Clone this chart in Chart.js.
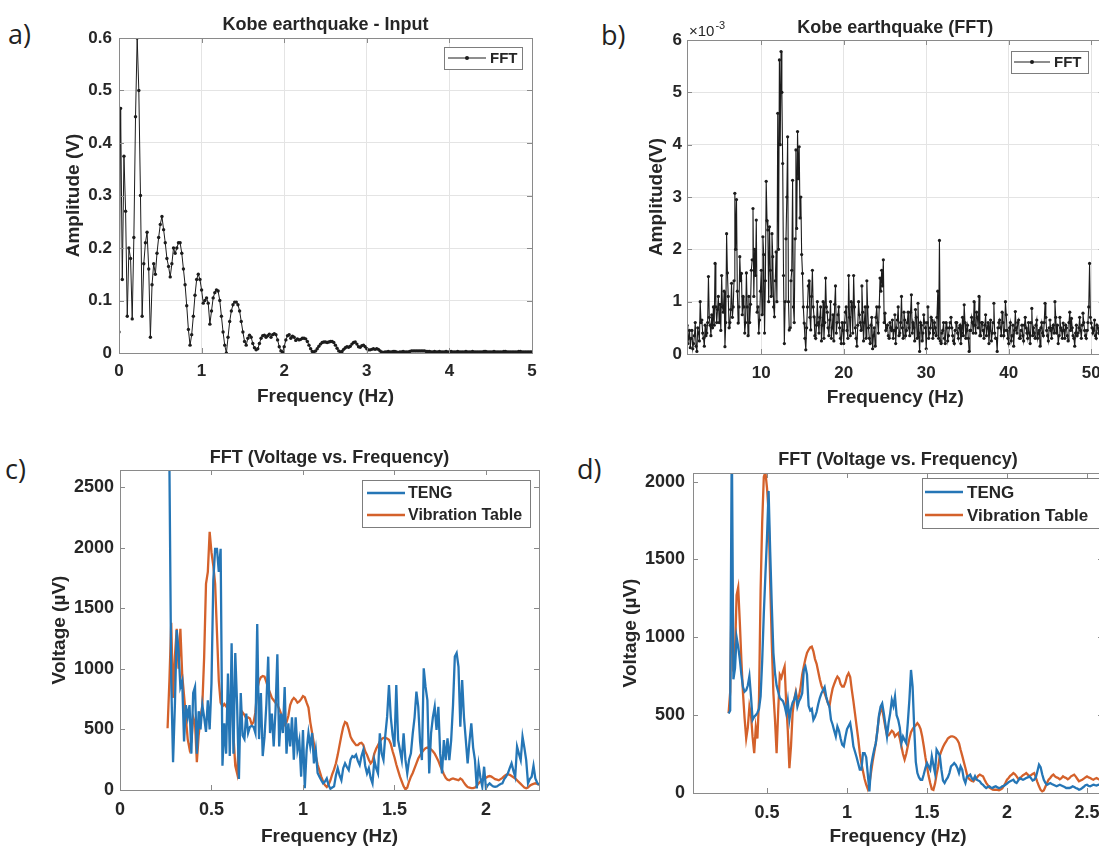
<!DOCTYPE html>
<html>
<head>
<meta charset="utf-8">
<script src="https://cdn.jsdelivr.net/npm/chart.js@4.4.1/dist/chart.umd.min.js"></script>
<style>
  html, body { margin: 0; padding: 0; background: #fff; width: 1099px; height: 847px; overflow: hidden; }
  canvas { position: absolute; }
  .tag { position: absolute; font-family: "Open Sans", "Liberation Sans", sans-serif; font-size: 27px; color: #222; line-height: 1; }
</style>
</head>
<body>
<div class="tag" style="left:8px;top:20px">a)</div>
<div class="tag" style="left:601px;top:21px">b)</div>
<div class="tag" style="left:5px;top:455px">c)</div>
<div class="tag" style="left:577px;top:455px">d)</div>
<canvas id="panelA" width="550" height="420" style="left:0;top:0"></canvas>
<canvas id="panelB" width="560" height="420" style="left:550px;top:0"></canvas>
<canvas id="panelC" width="550" height="430" style="left:0;top:425px"></canvas>
<canvas id="panelD" width="560" height="430" style="left:550px;top:425px"></canvas>
<script>
// a) Kobe input spectrum, bins every 0.02 Hz from 0 Hz (V)
const inputFreqStart = 0, inputFreqStep = 0.02;
const inputAmp = [
  0.04, 0.466, 0.14, 0.375, 0.27, 0.07, 0.2, 0.18, 0.065, 0.22,
  0.45, 0.6, 0.5, 0.3, 0.07, 0.17, 0.21, 0.23, 0.16, 0.03,
  0.13, 0.17, 0.15, 0.19, 0.22, 0.245, 0.26, 0.235, 0.21, 0.18,
  0.165, 0.145, 0.17, 0.2, 0.19, 0.2, 0.21, 0.21, 0.19, 0.16,
  0.13, 0.09, 0.045, 0.015, 0.035, 0.07, 0.11, 0.14, 0.15, 0.14,
  0.12, 0.095, 0.1, 0.105, 0.095, 0.055, 0.08, 0.105, 0.115, 0.12,
  0.118, 0.1, 0.07, 0.04, 0.015, 0.0, 0.03, 0.06, 0.08, 0.092,
  0.097, 0.097, 0.092, 0.08, 0.06, 0.04, 0.022, 0.015, 0.028, 0.034,
  0.03, 0.018, 0.01, 0.006, 0.008, 0.018, 0.028, 0.033, 0.034, 0.03,
  0.033, 0.036, 0.03, 0.035, 0.037, 0.035, 0.025, 0.012, 0.004, 0.002,
  0.012, 0.025, 0.033, 0.035, 0.028, 0.032, 0.03, 0.024, 0.027, 0.025,
  0.026, 0.028, 0.028, 0.027, 0.022, 0.015, 0.008, 0.003, 0.002, 0.004,
  0.008, 0.013, 0.017, 0.02, 0.021, 0.021, 0.02, 0.021, 0.022, 0.022,
  0.02, 0.015, 0.009, 0.004, 0.002, 0.003, 0.007, 0.01, 0.012, 0.011,
  0.013, 0.017, 0.02, 0.021, 0.017, 0.012, 0.011, 0.014, 0.015, 0.012,
  0.008, 0.006, 0.006, 0.007, 0.008, 0.007, 0.008, 0.007, 0.004, 0.002,
  0.001, 0.002, 0.002, 0.003, 0.002, 0.002, 0.003, 0.003, 0.002, 0.001,
  0.002, 0.002, 0.003, 0.002, 0.002, 0.002, 0.003, 0.004, 0.004, 0.004,
  0.004, 0.004, 0.004, 0.004, 0.004, 0.004, 0.003, 0.003, 0.003, 0.002,
  0.002, 0.003, 0.002, 0.002, 0.003, 0.002, 0.002, 0.002, 0.003, 0.002,
  0.002, 0.003, 0.002, 0.002, 0.002, 0.003, 0.002, 0.002, 0.002, 0.002,
  0.003, 0.002, 0.002, 0.002, 0.003, 0.002, 0.002, 0.002, 0.002, 0.002,
  0.002, 0.003, 0.003, 0.002, 0.002, 0.002, 0.002, 0.003, 0.002, 0.002,
  0.002, 0.002, 0.002, 0.003, 0.003, 0.002, 0.002, 0.002, 0.002, 0.002,
  0.002, 0.002, 0.003, 0.003, 0.002, 0.002, 0.002, 0.002, 0.002, 0.002,
  0.002
];
const inputFreqTicks = [0, 1, 2, 3, 4, 5];
const inputAmpTicks = [0, 0.1, 0.2, 0.3, 0.4, 0.5, 0.6];

// b) Kobe FFT in units of 1e-3 V: bins at 1.0, 1.2, ... Hz and the bins halfway between
const fftFreqStart = 1, fftFreqStep = 0.2;
const fftAmp = [
  0.55, 0.3, 0.12, 0.45, 0.2,   0.6, 0.05, 0.4, 1.0, 0.65,
  0.3, 0.55, 0.4, 1.48, 0.55,   0.75, 0.9, 1.73, 0.6, 1.1,
  0.95, 1.5, 0.8, 0.14, 2.3,    1.1, 0.6, 1.35, 0.9, 3.07,
  2.95, 0.59, 1.86, 1.54, 1.1,  0.4, 1.55, 0.35, 0.6, 1.6,
  2.78, 2.0, 2.56, 0.9, 0.65,   1.6, 2.24, 0.4, 3.3, 2.37,
  2.43, 1.1, 1.86, 0.71, 1.95,  4.6, 5.62, 5.78, 3.64, 0.2,
  2.2, 4.15, 0.46, 1.4, 3.32,   0.6, 3.9, 4.25, 3.96, 3.0,
  1.54, 0.59, 0.08, 0.9, 1.4,   0.46, 1.6, 0.71, 0.3, 1.0,
  0.4, 0.9, 0.55, 0.3, 1.45,    0.8, 0.35, 1.0, 0.5, 0.25,
  1.3, 0.6, 0.9, 0.3, 0.6,      0.2, 0.8, 0.45, 1.5, 0.35,
  0.9, 1.5, 0.5, 0.15, 1.0,     0.6, 1.3, 0.25, 0.9, 1.4,
  0.5, 0.2, 0.7, 0.35, 0.15,    0.9, 0.4, 1.45, 1.6, 1.8,
  0.78, 0.5, 0.35, 0.6, 0.45,   0.3, 0.75, 0.5, 0.9, 0.4,
  1.1, 0.3, 0.65, 0.45, 0.8,    0.35, 1.13, 0.6, 0.25, 0.7,
  0.97, 0.05, 0.55, 0.4, 0.6,   0.1, 0.9, 0.4, 0.7, 0.3,
  0.6, 0.35, 1.2, 2.17, 0.2,    0.45, 0.3, 0.6, 0.25, 0.5,
  0.7, 0.35, 0.2, 0.6, 0.4,     0.5, 0.2, 0.7, 0.94, 0.3,
  0.55, 0.05, 0.45, 0.6, 1.0,   0.4, 0.7, 1.1, 0.35, 0.6,
  0.3, 0.75, 0.5, 0.2, 0.65,    0.4, 0.97, 0.3, 0.05, 0.6,
  0.5, 0.8, 0.35, 1.0, 0.45,    0.2, 0.6, 0.35, 0.15, 0.81,
  0.4, 0.65, 0.3, 0.55, 0.25,   0.7, 0.4, 0.6, 0.2, 0.87,
  0.5, 0.3, 0.65, 0.4, 0.15,    0.6, 0.35, 0.97, 0.45, 0.25,
  0.65, 0.3, 0.55, 1.0, 0.4,    0.2, 0.7, 0.45, 0.59, 0.3,
  0.5, 0.25, 0.8, 0.68, 0.35,   0.15, 0.55, 0.4, 0.7, 0.3,
  0.78, 0.45, 0.3, 0.6, 1.73,   0.59, 0.4, 0.65, 0.3, 0.5,
  0.45
];
// values at 1.1, 1.3, ... 50.9 Hz
const fftAmpMid = [
  0.2, 0.45, 0.3, 0.1, 0.35, 0.15, 0.5, 0.25, 0.6, 0.4,
  0.15, 0.35, 0.6, 0.7, 0.35, 0.5, 0.55, 0.9, 0.85, 0.6,
  0.45, 0.9, 1.2, 0.6, 1.55, 0.5, 0.85, 0.7, 1.4, 2.0,
  1.2, 0.9, 1.4, 0.75, 0.9, 0.6, 0.9, 1.1, 0.95, 1.8,
  1.1, 1.5, 0.8, 0.4, 1.2, 0.75, 1.9, 1.4, 2.55, 1.0,
  1.6, 2.3, 0.9, 1.4, 1.0, 2.0, 4.0, 5.0, 1.5, 1.0,
  3.0, 1.0, 0.5, 1.6, 0.9, 2.2, 2.4, 3.35, 2.6, 1.9,
  0.9, 0.3, 0.5, 1.3, 0.7, 1.1, 0.9, 0.35, 0.55, 0.6,
  0.7, 0.25, 1.0, 0.6, 0.9, 0.5, 0.65, 0.3, 0.75, 0.95,
  0.4, 0.75, 0.5, 0.2, 0.45, 0.6, 0.9, 0.3, 0.7, 1.0,
  0.4, 0.9, 0.3, 0.55, 0.75, 0.45, 0.8, 0.6, 0.3, 0.9,
  0.3, 0.55, 0.1, 0.5, 0.7, 0.6, 0.9, 1.2, 1.3, 0.6,
  0.45, 0.55, 0.3, 0.5, 0.65, 0.45, 0.2, 0.65, 0.35, 0.6,
  0.5, 0.8, 0.35, 0.6, 0.5, 0.8, 0.4, 0.5, 0.85, 0.3,
  0.4, 0.6, 0.25, 0.75, 0.5, 0.6, 0.3, 0.5, 0.65, 0.4,
  0.5, 0.7, 0.3, 0.25, 0.4, 0.6, 0.2, 0.5, 0.35, 0.6,
  0.5, 0.25, 0.45, 0.6, 0.3, 0.55, 0.4, 0.35, 0.6, 0.45,
  0.3, 0.45, 0.7, 0.4, 0.55, 0.8, 0.5, 0.35, 0.6, 0.45,
  0.55, 0.35, 0.6, 0.45, 0.25, 0.6, 0.4, 0.3, 0.5, 0.65,
  0.35, 0.6, 0.45, 0.75, 0.3, 0.5, 0.25, 0.55, 0.45, 0.5,
  0.6, 0.3, 0.45, 0.35, 0.55, 0.5, 0.3, 0.4, 0.6, 0.35,
  0.4, 0.55, 0.3, 0.45, 0.5, 0.4, 0.6, 0.7, 0.35, 0.5,
  0.45, 0.5, 0.4, 0.7, 0.55, 0.35, 0.5, 0.3, 0.45, 0.55,
  0.35, 0.6, 0.45, 0.5, 0.3, 0.4, 0.35, 0.5, 0.45, 0.55,
  0.6, 0.35, 0.45, 0.9, 0.7, 0.5, 0.45, 0.35, 0.55, 0.4
];
const fftFreqTicks = [10, 20, 30, 40, 50];
const fftAmpTicks = [0, 1, 2, 3, 4, 5, 6];

// c) TENG vs vibration table, bins every 0.01 Hz from 0.26 Hz (µV)
const freqStartC = 0.26, freqStepC = 0.01;
const tengC = [
  2800, 2700, 900, 230, 700, 1320, 1150, 850, 900, 400,
  700, 600, 700, 300, 800, 850, 300, 650, 500, 700,
  600, 480, 740, 500, 880, 1730, 1990, 1990, 1800, 1990,
  200, 550, 300, 960, 280, 1210, 300, 1130, 700, 90,
  800, 450, 420, 630, 470, 520, 530, 520, 470, 1370,
  420, 800, 280, 440, 710, 1100, 470, 630, 360, 660,
  1120, 360, 630, 470, 850, 300, 550, 360, 600, 250,
  600, 330, 410, 110, 495, 14, 330, 470, 360, 470,
  220, 330, 140, 110, 80, 55, 70, 95, 40, 10,
  20, 30, 120, 180, 120, 80, 180, 220, 190, 165,
  250, 280, 270, 290, 240, 206, 280, 330, 200, 137,
  180, 100, 55, 247, 180, 137, 467, 300, 247, 450,
  605, 866, 600, 450, 357, 866, 412, 330, 247, 467,
  250, 137, 250, 302, 467, 600, 811, 687, 400, 247,
  1004, 850, 742, 137, 467, 600, 687, 495, 687, 300,
  137, 412, 247, 426, 247, 412, 700, 1100, 1130, 1017,
  522, 907, 600, 412, 220, 400, 550, 350, 247, 14,
  206, 100, 27, 192, 14, 40, 55, 40, 30, 27,
  30, 40, 50, 55, 90, 110, 137, 180, 220, 160,
  110, 357, 300, 247, 440, 350, 247, 55, 90, 110,
  200, 96, 60, 41
];
const tableC = [
  510, 900, 1380, 760, 1100, 1330, 1000, 1330, 950, 780,
  600, 420, 340, 400, 600, 550, 230, 450, 600, 700,
  1100, 1700, 1800, 2130, 1960, 1850, 1700, 1300, 900, 720,
  690, 710, 690, 730, 770, 800, 450, 200, 137, 400,
  600, 640, 620, 590, 600, 590, 540, 560, 640, 830,
  900, 930, 940, 935, 890, 840, 800, 760, 740, 720,
  700, 670, 630, 590, 540, 560, 610, 700, 740, 760,
  745, 720, 730, 750, 775, 765, 720, 680, 560, 470,
  380, 280, 210, 160, 110, 70, 40, 25, 45, 80,
  130, 170, 220, 290, 370, 450, 520, 560, 550, 500,
  440, 410, 390, 370, 370, 385, 390, 370, 320, 290,
  250, 220, 240, 300, 340, 370, 400, 420, 430, 430,
  425, 415, 380, 320, 270, 210, 160, 110, 70, 30,
  5, 20, 70, 110, 140, 180, 220, 260, 285, 310,
  330, 345, 350, 345, 335, 320, 300, 270, 240, 200,
  165, 130, 100, 85, 80, 90, 95, 90, 85, 80,
  95, 85, 60, 40, 25, 20, 15, 15, 20, 35,
  55, 70, 80, 90, 100, 110, 115, 110, 100, 90,
  85, 80, 90, 100, 115, 125, 130, 125, 115, 105,
  95, 80, 65, 50, 35, 20, 15, 20, 35, 45,
  50, 55, 50, 45
];
const freqTicksC = [0, 0.5, 1, 1.5, 2];
const voltTicksC = [0, 500, 1000, 1500, 2000, 2500];

// d) smoothed comparison, bins every 0.01 Hz from 0.26 Hz (µV)
const freqStartD = 0.26, freqStepD = 0.01;
const tengD = [
  510, 530, 2300, 730, 800, 1000, 940, 860, 760, 680,
  650, 660, 690, 750, 620, 470, 490, 500, 515, 540,
  620, 850, 1150, 1400, 1640, 1940, 1550, 1200, 900, 770,
  690, 650, 610, 600, 590, 560, 513, 590, 470, 540,
  580, 600, 640, 555, 590, 610, 640, 790, 812, 760,
  560, 530, 540, 470, 490, 520, 570, 610, 640, 660,
  680, 620, 580, 555, 470, 440, 400, 363, 427, 400,
  350, 310, 300, 360, 410, 430, 449, 385, 300, 265,
  230, 190, 150, 150, 256, 256, 230, 120, 10, 171,
  230, 280, 320, 400, 500, 555, 575, 513, 440, 363,
  450, 513, 598, 560, 620, 500, 470, 420, 320, 363,
  340, 320, 450, 600, 790, 684, 420, 200, 128, 100,
  85, 85, 120, 160, 192, 170, 150, 235, 180, 128,
  278, 260, 240, 150, 80, 64, 85, 100, 128, 171,
  180, 192, 180, 160, 128, 171, 150, 90, 64, 107,
  110, 118, 95, 85, 107, 85, 80, 75, 60, 53,
  40, 32, 38, 43, 35, 32, 40, 43, 36, 32,
  35, 43, 45, 53, 60, 70, 75, 80, 85, 70,
  64, 80, 96, 90, 85, 90, 96, 100, 107, 95,
  80, 85, 100, 140, 182, 165, 120, 85, 65, 53,
  58, 64, 58, 53, 48, 43, 48, 53, 48, 43,
  38, 32, 32, 32, 36, 43, 38, 32, 28, 21,
  25, 32, 40, 50, 53, 45, 43, 48, 53, 50,
  48, 53, 55, 50, 48
];
const tableD = [
  513, 650, 1380, 780, 900, 1270, 1320, 1100, 850, 640,
  480, 350, 420, 555, 500, 360, 256, 420, 350, 600,
  1300, 1740, 2030, 2060, 1960, 1800, 1350, 960, 640, 470,
  256, 530, 760, 740, 780, 812, 580, 400, 160, 300,
  513, 600, 650, 600, 620, 680, 760, 812, 860, 900,
  920, 935, 940, 910, 860, 830, 780, 730, 690, 662,
  641, 610, 580, 555, 620, 670, 700, 727, 748, 735,
  700, 684, 684, 710, 750, 769, 745, 662, 590, 510,
  430, 350, 256, 190, 140, 90, 53, 25, 60, 130,
  200, 260, 320, 400, 490, 530, 540, 480, 420, 370,
  370, 385, 400, 390, 363, 375, 385, 350, 300, 250,
  214, 250, 300, 350, 390, 410, 425, 435, 449, 435,
  410, 363, 300, 230, 170, 110, 64, 25, 20, 60,
  120, 170, 240, 270, 295, 315, 331, 350, 358, 363,
  363, 360, 353, 340, 320, 278, 240, 200, 160, 118,
  95, 85, 78, 75, 90, 96, 110, 118, 112, 107,
  85, 65, 50, 35, 28, 22, 21, 21, 20, 18,
  22, 30, 45, 64, 85, 96, 110, 118, 128, 120,
  107, 92, 90, 105, 115, 120, 128, 118, 107, 115,
  122, 128, 100, 70, 43, 20, 11, 16, 40, 64,
  85, 96, 110, 118, 107, 100, 96, 88, 95, 107,
  100, 96, 88, 95, 107, 112, 118, 105, 90, 75,
  80, 85, 92, 100, 107, 100, 96, 90, 85, 92,
  96, 90, 85, 80, 75
];
const freqTicksD = [0.5, 1, 1.5, 2, 2.5];
const voltTicksD = [0, 500, 1000, 1500, 2000];

const FONT = '"Liberation Sans", Arial, Helvetica, sans-serif';
const INK = '#262626';
const FRAME = '#8a8a8a';
const GRID = '#e4e4e4';
const TENG_BLUE = '#2576b6';
const TABLE_ORANGE = '#d4612b';
const FFT_BLACK = '#1c1c1c';

function binned(start, step, values) {
  return values.map((v, i) => ({ x: +(start + i * step).toFixed(4), y: v }));
}

// merge the main bins with the half-step bins between them
function withMidBins(start, step, values, mids) {
  const pts = [];
  values.forEach((v, i) => {
    const f = start + i * step;
    pts.push({ x: +f.toFixed(4), y: v });
    if (i < mids.length) pts.push({ x: +(f + step / 2).toFixed(4), y: mids[i] });
  });
  return pts;
}

function tickText(v) {
  return String(+Number(v).toFixed(4));
}

// box, inward tick marks and a MATLAB-like legend drawn over the plot
function axesDecor(spec) {
  return {
    id: 'axesDecor',
    afterDatasetsDraw(chart) {
      const { ctx, chartArea: a, scales } = chart;
      ctx.save();
      ctx.strokeStyle = FRAME;
      ctx.lineWidth = 1;
      ctx.beginPath();
      scales.x.ticks.forEach(t => {
        const px = Math.round(scales.x.getPixelForValue(t.value)) + 0.5;
        ctx.moveTo(px, a.bottom); ctx.lineTo(px, a.bottom - 5);
        ctx.moveTo(px, a.top); ctx.lineTo(px, a.top + 5);
      });
      scales.y.ticks.forEach(t => {
        const py = Math.round(scales.y.getPixelForValue(t.value)) + 0.5;
        ctx.moveTo(a.left, py); ctx.lineTo(a.left + 5, py);
        ctx.moveTo(a.right, py); ctx.lineTo(a.right - 5, py);
      });
      ctx.stroke();
      ctx.strokeRect(Math.round(a.left) + 0.5, Math.round(a.top) + 0.5,
        Math.round(a.right - a.left), Math.round(a.bottom - a.top));

      const lg = spec.legend;
      ctx.fillStyle = '#fff';
      ctx.fillRect(lg.x, lg.y, lg.w, lg.h);
      ctx.strokeStyle = '#7d7d7d';
      ctx.strokeRect(lg.x + 0.5, lg.y + 0.5, lg.w, lg.h);
      ctx.font = `bold ${lg.size}px ${FONT}`;
      ctx.textBaseline = 'middle';
      ctx.textAlign = 'left';
      chart.data.datasets.forEach((ds, i) => {
        const y = lg.rows[i];
        ctx.strokeStyle = ds.borderColor;
        ctx.lineWidth = ds.borderWidth;
        ctx.beginPath();
        ctx.moveTo(lg.x0, y); ctx.lineTo(lg.x1, y);
        ctx.stroke();
        if (ds.pointRadius > 0) {
          ctx.fillStyle = ds.borderColor;
          ctx.beginPath();
          ctx.arc((lg.x0 + lg.x1) / 2, y, 2, 0, Math.PI * 2);
          ctx.fill();
        }
        ctx.fillStyle = INK;
        ctx.fillText(ds.label, lg.textX, y + 1);
      });

      if (spec.exponent) {
        const e = spec.exponent;
        ctx.fillStyle = INK;
        ctx.font = `15px ${FONT}`;
        ctx.textBaseline = 'alphabetic';
        ctx.fillText('\u00d710', e.x, e.y);
        const w = ctx.measureText('\u00d710').width;
        ctx.font = `11px ${FONT}`;
        ctx.fillText('-3', e.x + w + 1, e.y - 7);
      }
      ctx.restore();
    }
  };
}

function makePanel(id, s) {
  const tLH = s.titleSize * 1.2;
  const aLH = s.axisSize * 1.2;
  const titleTop = s.titleY - tLH / 2;
  const tickFont = { family: FONT, size: s.tickSize, weight: 'bold' };
  const axisFont = { family: FONT, size: s.axisSize, weight: 'bold', lineHeight: 1.2 };
  return new Chart(document.getElementById(id), {
    type: 'line',
    data: { datasets: s.datasets },
    options: {
      responsive: false,
      animation: false,
      events: [],
      layout: { padding: { left: 0, top: 0, right: s.W - s.R, bottom: 0 } },
      plugins: {
        legend: { display: false },
        tooltip: { enabled: false },
        title: {
          display: true,
          fullSize: false,
          text: s.title,
          color: INK,
          font: { family: FONT, size: s.titleSize, weight: 'bold', lineHeight: 1.2 },
          padding: { top: titleTop, bottom: s.T - titleTop - tLH }
        }
      },
      scales: {
        x: {
          type: 'linear',
          min: s.xMin, max: s.xMax,
          grid: { display: s.grid, color: GRID, drawTicks: false },
          border: { display: false },
          ticks: {
            autoSkip: false, maxRotation: 0,
            padding: s.xPad, color: INK, font: tickFont, callback: tickText
          },
          afterBuildTicks(scale) { scale.ticks = s.xTicks.map(v => ({ value: v })); },
          title: {
            display: true, text: s.xTitle, color: INK, font: axisFont,
            padding: { top: 0, bottom: s.H - s.xTitleY - aLH / 2 }
          },
          afterFit(scale) { scale.height = s.H - s.B; }
        },
        y: {
          type: 'linear',
          min: 0, max: s.yMax,
          grid: { display: s.grid, color: GRID, drawTicks: false },
          border: { display: false },
          ticks: {
            autoSkip: false,
            padding: s.yPad, color: INK, font: tickFont, callback: tickText
          },
          afterBuildTicks(scale) { scale.ticks = s.yTicks.map(v => ({ value: v })); },
          title: {
            display: true, text: s.yTitle, color: INK, font: axisFont,
            padding: { top: s.yTitleX - aLH / 2, bottom: 0 }
          },
          afterFit(scale) { scale.width = s.L; }
        }
      }
    },
    plugins: [axesDecor(s)]
  });
}

function dottedSeries(label, pts, width, radius) {
  return {
    label, data: pts, borderColor: FFT_BLACK, backgroundColor: FFT_BLACK,
    borderWidth: width, pointRadius: radius, pointBorderWidth: 0,
    pointBackgroundColor: FFT_BLACK, pointHoverRadius: 0, tension: 0
  };
}

function lineSeries(label, color, pts) {
  return {
    label, data: pts, borderColor: color, backgroundColor: color,
    borderWidth: 2.3, pointRadius: 0, pointHoverRadius: 0, tension: 0
  };
}

makePanel('panelA', {
  W: 550, H: 420, L: 119, T: 38, R: 532, B: 353,
  title: 'Kobe earthquake - Input', titleY: 25, titleSize: 18,
  xTitle: 'Frequency (Hz)', xTitleY: 397, yTitle: 'Amplitude (V)', yTitleX: 74,
  axisSize: 19, tickSize: 17, xPad: 8, yPad: 7,
  xMin: 0, xMax: 5, yMax: 0.6, grid: true,
  xTicks: inputFreqTicks, yTicks: inputAmpTicks,
  datasets: [dottedSeries('FFT', binned(inputFreqStart, inputFreqStep, inputAmp), 1, 1.7)],
  legend: { x: 444, y: 47, w: 78, h: 22, size: 15, x0: 448, x1: 486, textX: 490, rows: [58] }
});

makePanel('panelB', {
  W: 560, H: 420, L: 137, T: 40, R: 553.6, B: 354,
  title: 'Kobe earthquake (FFT)', titleY: 28, titleSize: 18,
  xTitle: 'Frequency (Hz)', xTitleY: 398, yTitle: 'Amplitude(V)', yTitleX: 107,
  axisSize: 19, tickSize: 17, xPad: 9, yPad: 5,
  xMin: 1, xMax: 51.5, yMax: 6, grid: true,
  xTicks: fftFreqTicks, yTicks: fftAmpTicks,
  datasets: [dottedSeries('FFT', withMidBins(fftFreqStart, fftFreqStep, fftAmp, fftAmpMid), 1.1, 1.6)],
  legend: { x: 461, y: 51, w: 77, h: 22, size: 15, x0: 464, x1: 500, textX: 504, rows: [62] },
  exponent: { x: 139, y: 36 }
});

makePanel('panelC', {
  W: 550, H: 430, L: 120, T: 45, R: 539, B: 365,
  title: 'FFT (Voltage vs. Frequency)', titleY: 33, titleSize: 18,
  xTitle: 'Frequency (Hz)', xTitleY: 412, yTitle: 'Voltage (\u00b5V)', yTitleX: 60,
  axisSize: 19, tickSize: 18, xPad: 9, yPad: 6,
  xMin: 0, xMax: 2.29, yMax: 2640, grid: false,
  xTicks: freqTicksC, yTicks: voltTicksC,
  datasets: [
    lineSeries('TENG', TENG_BLUE, binned(freqStartC, freqStepC, tengC)),
    lineSeries('Vibration Table', TABLE_ORANGE, binned(freqStartC, freqStepC, tableC))
  ],
  legend: { x: 362, y: 55, w: 168, h: 47, size: 16, x0: 367, x1: 405, textX: 408, rows: [68, 90] }
});

makePanel('panelD', {
  W: 560, H: 430, L: 143, T: 48, R: 553, B: 368,
  title: 'FFT (Voltage vs. Frequency)', titleY: 35, titleSize: 18,
  xTitle: 'Frequency (Hz)', xTitleY: 412, yTitle: 'Voltage (\u00b5V)', yTitleX: 81,
  axisSize: 19, tickSize: 18, xPad: 9, yPad: 8,
  xMin: 0.0375, xMax: 2.6, yMax: 2055, grid: false,
  xTicks: freqTicksD, yTicks: voltTicksD,
  datasets: [
    lineSeries('TENG', TENG_BLUE, binned(freqStartD, freqStepD, tengD)),
    lineSeries('Vibration Table', TABLE_ORANGE, binned(freqStartD, freqStepD, tableD))
  ],
  legend: { x: 372, y: 53, w: 200, h: 50, size: 17, x0: 375, x1: 413, textX: 417, rows: [67, 90] }
});
</script>
</body>
</html>
